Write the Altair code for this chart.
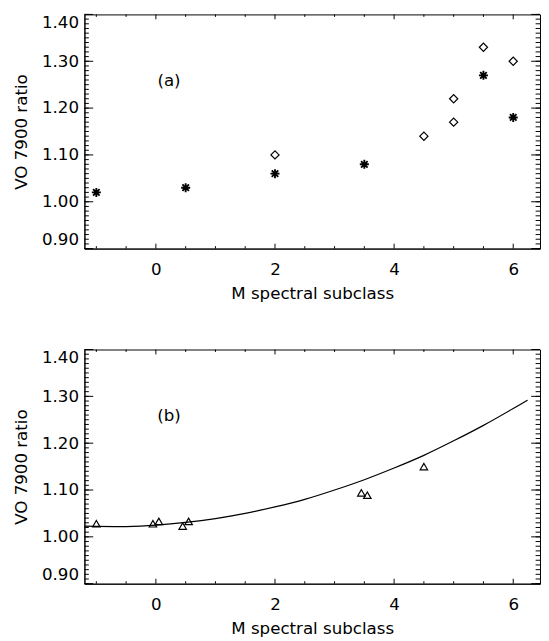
import altair as alt
import pandas as pd

# ---------------- data ----------------
# Panel (a): asterisks and diamonds
a_star_x = [-1.0, 0.5, 2.0, 3.5, 5.5, 6.0]
a_star_y = [1.02, 1.03, 1.06, 1.08, 1.27, 1.18]
a_diam_x = [2.0, 4.5, 5.0, 5.0, 5.5, 6.0]
a_diam_y = [1.10, 1.14, 1.22, 1.17, 1.33, 1.30]

# Panel (b): triangles and fitted curve
b_tri_x = [-1.0, -0.05, 0.05, 0.45, 0.55, 3.45, 3.55, 4.5]
b_tri_y = [1.028, 1.028, 1.033, 1.023, 1.033, 1.094, 1.089, 1.150]
b_fit_x = [-1.2, -0.5, 0.0, 0.5, 1.0, 1.5, 2.0, 2.5, 3.0, 3.5, 4.0, 4.5, 5.0, 5.5, 6.0, 6.24]
b_fit_y = [1.023, 1.022, 1.025, 1.031, 1.039, 1.050, 1.064, 1.080, 1.100, 1.122,
           1.147, 1.174, 1.205, 1.238, 1.274, 1.292]

# axis ticks
x_major = [0, 2, 4, 6]
x_minor = [-1.0, -0.5, 0.5, 1.0, 1.5, 2.5, 3.0, 3.5, 4.5, 5.0, 5.5]
y_major = [0.9, 1.0, 1.1, 1.2, 1.3, 1.4]
y_minor = [round(0.9 + 0.01 * i, 2) for i in range(51)]

x_title = "M spectral subclass"
y_title = "VO 7900 ratio"
panel_labels = ["(a)", "(b)"]

# ---------------- styling ----------------
W, H = 465, 239
FONT = "DejaVu Sans"
ASTERISK = "M-1,0L1,0M0,-1L0,1M-0.72,-0.72L0.72,0.72M-0.72,0.72L0.72,-0.72"

xscale = alt.Scale(domain=[-1.2, 6.45], nice=False, zero=False)
yscale = alt.Scale(domain=[0.9, 1.4], nice=False, zero=False)
xaxis = alt.Axis(values=x_major, format="d", ticks=False, grid=False,
                 labelPadding=13, titlePadding=9)
yaxis = alt.Axis(values=y_major, format=".2f", ticks=False, grid=False,
                 labelPadding=6, titlePadding=11, labelFlush=True)


def X(field):
    return alt.X(field, type="quantitative", scale=xscale, axis=xaxis, title=x_title)


def Y(field):
    return alt.Y(field, type="quantitative", scale=yscale, axis=yaxis, title=y_title)


def tick_layers():
    ym = pd.DataFrame({"v": y_major})
    yn = pd.DataFrame({"v": y_minor})
    xm = pd.DataFrame({"v": x_major})
    xn = pd.DataFrame({"v": x_minor})
    layers = []
    for df, ln in ((ym, 9), (yn, 4.5)):
        base = alt.Chart(df).mark_rule(color="black", strokeWidth=1)
        layers.append(base.encode(y=Y("v"), x=alt.value(0), x2=alt.value(ln)))
        layers.append(base.encode(y=Y("v"), x=alt.value(W), x2=alt.value(W - ln)))
    for df, ln in ((xm, 5), (xn, 2.5)):
        base = alt.Chart(df).mark_rule(color="black", strokeWidth=1)
        layers.append(base.encode(x=X("v"), y=alt.value(H), y2=alt.value(H - ln)))
        layers.append(base.encode(x=X("v"), y=alt.value(0), y2=alt.value(ln)))
    return layers


def label_layer(text):
    return alt.Chart(pd.DataFrame({"t": [text]})).mark_text(
        font=FONT, fontSize=17, color="black", align="center", baseline="middle"
    ).encode(
        x=alt.X(datum=0.22, type="quantitative", scale=xscale, axis=xaxis, title=x_title),
        y=alt.Y(datum=1.257, type="quantitative", scale=yscale, axis=yaxis, title=y_title),
        text="t:N",
    )


# ---------------- panel (a) ----------------
star_a = alt.Chart(pd.DataFrame({"x": a_star_x, "y": a_star_y})).mark_point(
    shape=ASTERISK, size=85, filled=False, color="black", strokeWidth=1.9, opacity=1
).encode(x=X("x"), y=Y("y"))

diam_a = alt.Chart(pd.DataFrame({"x": a_diam_x, "y": a_diam_y})).mark_point(
    shape="diamond", size=70, filled=False, color="black", strokeWidth=1.2, opacity=1
).encode(x=X("x"), y=Y("y"))

panel_a = alt.layer(*tick_layers(), diam_a, star_a, label_layer(panel_labels[0])).properties(
    width=W, height=H)

# ---------------- panel (b) ----------------
fit_b = alt.Chart(pd.DataFrame({"x": b_fit_x, "y": b_fit_y})).mark_line(
    color="black", strokeWidth=1.2, interpolate="natural"
).encode(x=X("x"), y=Y("y"))

tri_b = alt.Chart(pd.DataFrame({"x": b_tri_x, "y": b_tri_y})).mark_point(
    shape="triangle-up", size=58, filled=False, color="black", strokeWidth=1.2, opacity=1
).encode(x=X("x"), y=Y("y"))

panel_b = alt.layer(*tick_layers(), fit_b, tri_b, label_layer(panel_labels[1])).properties(
    width=W, height=H)

chart = alt.vconcat(panel_a, panel_b, spacing=46).properties(
    padding={"left": 4, "top": -2, "right": 0, "bottom": 0},
    background="white",
).configure_view(
    stroke="black", strokeWidth=1
).configure_axis(
    labelFont=FONT, titleFont=FONT, labelFontSize=17, titleFontSize=17,
    labelColor="black", titleColor="black", titleFontWeight="normal",
    domainColor="black", domainWidth=1,
)

chart.save("out.html", embed_options={"renderer": "svg", "actions": False})
